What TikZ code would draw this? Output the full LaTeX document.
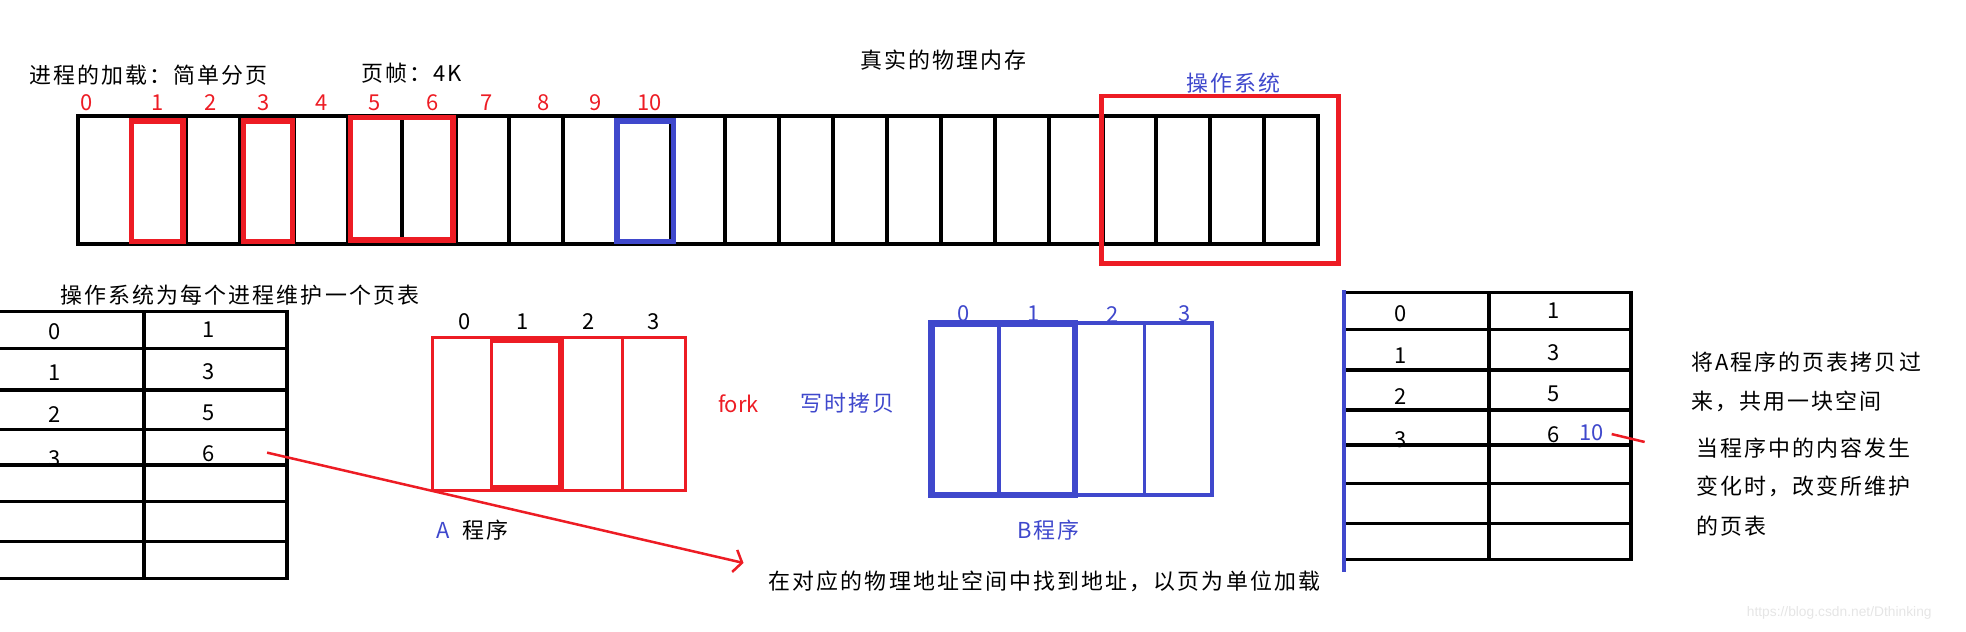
\documentclass[tikz,border=0pt]{standalone}
\usepackage{fontspec}
\setmainfont{Noto Sans CJK SC}
\newfontfamily\wmfont{Liberation Sans}
\usetikzlibrary{arrows.meta}
\definecolor{pred}{RGB}{237,28,36}
\definecolor{pblue}{RGB}{63,72,204}
\begin{document}
\begin{tikzpicture}[x=1pt,y=-1pt,
  cjk/.style={inner sep=0pt,anchor=west,font=\fontsize{17.5}{21}\selectfont\addfontfeature{LetterSpace=9.7}},
  num/.style={inner sep=0pt,font=\fontsize{17.5}{20}\selectfont},
  memcell/.style={draw=black,line width=3.2pt},
  tab/.style={draw=black,line width=2.8pt},
  redbox/.style={draw=pred,line width=4.3pt},
  bluebox/.style={draw=pblue,line width=4.3pt},
  thinred/.style={draw=pred,line width=2.4pt},
  thinblue/.style={draw=pblue,line width=3pt},
  redline/.style={draw=pred,line width=2pt}]
\useasboundingbox (0,0) rectangle (1568,504);

% ---------- top texts ----------
\node[cjk] (t1) at (23,59.8) {进程的加载：简单分页};
\node[cjk] (t2) at (288,58.5) {页帧：4K};
\node[cjk] (t3) at (685.8,47.9) {真实的物理内存};
\node[cjk,text=pblue] (t4) at (946,66.5) {操作系统};

% ---------- physical memory strip ----------
\foreach \i in {0,...,22}{\draw[memcell] ({62.3+43*\i},92.5) rectangle ++(43,102.1);}
\foreach \n/\x in {0/68.7,1/125.3,2/168,3/210,4/256.3,5/298.4,6/345.4,7/388,8/433.6,9/475.3,10/518}
  {\node[num,text=pred] (m\n) at (\x,81.8) {\n};}
\draw[redbox] (105,96.5) rectangle (146,192.7);
\draw[redbox] (194,96.5) rectangle (233.2,192.7);
\draw[redbox] (279.5,93.5) rectangle (361.3,191.4);
\draw[bluebox] (492,96.5) rectangle (537,192.7);
\draw[draw=pred,line width=3.6pt] (878.7,76.6) rectangle (1067.4,210);

% ---------- left page table ----------
\node[cjk] (t5) at (47.9,235.3) {操作系统为每个进程维护一个页表};
\foreach \n/\y in {0/264.5,1/297.6,2/331,3/366}{\node[num] (la\n) at (43.9,\y) {\n};}
\foreach \n/\v/\y in {0/1/263,1/3/296.4,2/5/329,3/6/362}{\node[num] (lb\n) at (166.7,\y) {\v};}
\foreach \y in {248.6,277.8,311,342.4,370.9,400.1,432,461.2}{\draw[tab] (0,\y) -- (229,\y);}
\draw[tab] (115,248.6) -- (115,461.2);
\draw[tab] (229,247.2) -- (229,462.6);

% arrow to the loading text
\node[cjk] (t6) at (612.9,463.9) {在对应的物理地址空间中找到地址，以页为单位加载};
\coordinate (arrS) at (213,361);
\coordinate (arrE) at (593,449);
\draw[redline,-{Straight Barb[length=6pt,width=18pt]}] (arrS) -- (arrE);

% ---------- program A ----------
\foreach \n/\x in {0/370.3,1/416.7,2/469.5,3/521.4}{\node[num] (an\n) at (\x,256.6) {\n};}
\draw[thinred] (345,269) rectangle (546.4,390.8);
\draw[thinred] (392.3,269) -- (392.3,390.8);
\draw[thinred] (496.6,269) -- (496.6,390.8);
\draw[draw=pred,line width=4.6pt] (392.3,271) -- (447.2,271) -- (447.2,389) -- (392.3,389);
\node[num,text=pblue] (aA) at (353.5,422.7) {A};
\node[cjk] (aP) at (369,422.7) {程序};

\node[num,text=pred] (fork) at (589,321.7) {fork};
\node[cjk,text=pblue] (cow) at (638,321.7) {写时拷贝};

% ---------- program B ----------
\foreach \n/\x in {0/768.3,1/824.7,2/887.4,3/945.1}{\node[num,text=pblue] (bn\n) at (\x,250.5) {\n};}
\draw[thinblue] (743,257.9) rectangle (966.4,394.8);
\draw[thinblue] (797,257.9) -- (797,394.8);
\draw[thinblue] (912.7,257.9) -- (912.7,394.8);
\draw[draw=pblue,line width=5pt] (857.4,257.9) -- (743,257.9) -- (743,394.8) -- (857.4,394.8) -- cycle;
\node[cjk,text=pblue] (bP) at (811,422.7) {B程序};

% ---------- right page table ----------
\foreach \n/\y in {0/249.9,1/284,2/316.4,3/351}{\node[num] (ra\n) at (1116.8,\y) {\n};}
\foreach \n/\v/\y in {0/1/247.8,1/3/281.3,2/5/313.7,3/6/347}{\node[num] (rb\n) at (1239.4,\y) {\v};}
\foreach \y in {233.4,262.7,295.1,327,355,385.5,417.4,446.1}{\draw[tab] (1072,\y) -- (1301,\y);}
\draw[tab] (1187.5,233.4) -- (1187.5,446.1);
\draw[tab] (1301,232) -- (1301,447.5);
\draw[draw=pblue,line width=2.6pt] (1072,231.3) -- (1072,456);
\node[num,text=pblue] (r10) at (1269.6,345.1) {10};
\coordinate (dashS) at (1285.4,346.2);
\coordinate (dashE) at (1311.7,352.5);
\draw[redline] (dashS) -- (dashE);

% ---------- right notes ----------
\node[cjk] (n1) at (1348.5,288.5) {将A程序的页表拷贝过};
\node[cjk] (n2) at (1348.5,320.4) {来，共用一块空间};
\node[cjk] (n3) at (1352.5,357.6) {当程序中的内容发生};
\node[cjk] (n4) at (1352.5,388.2) {变化时，改变所维护};
\node[cjk] (n5) at (1352.5,420) {的页表};

% watermark
\node[inner sep=0pt,anchor=west,text=black!10,font=\wmfont\fontsize{11}{13}\selectfont] (wm) at (1393,489.2) {https://blog.csdn.net/Dthinking};
\end{tikzpicture}
\end{document}
